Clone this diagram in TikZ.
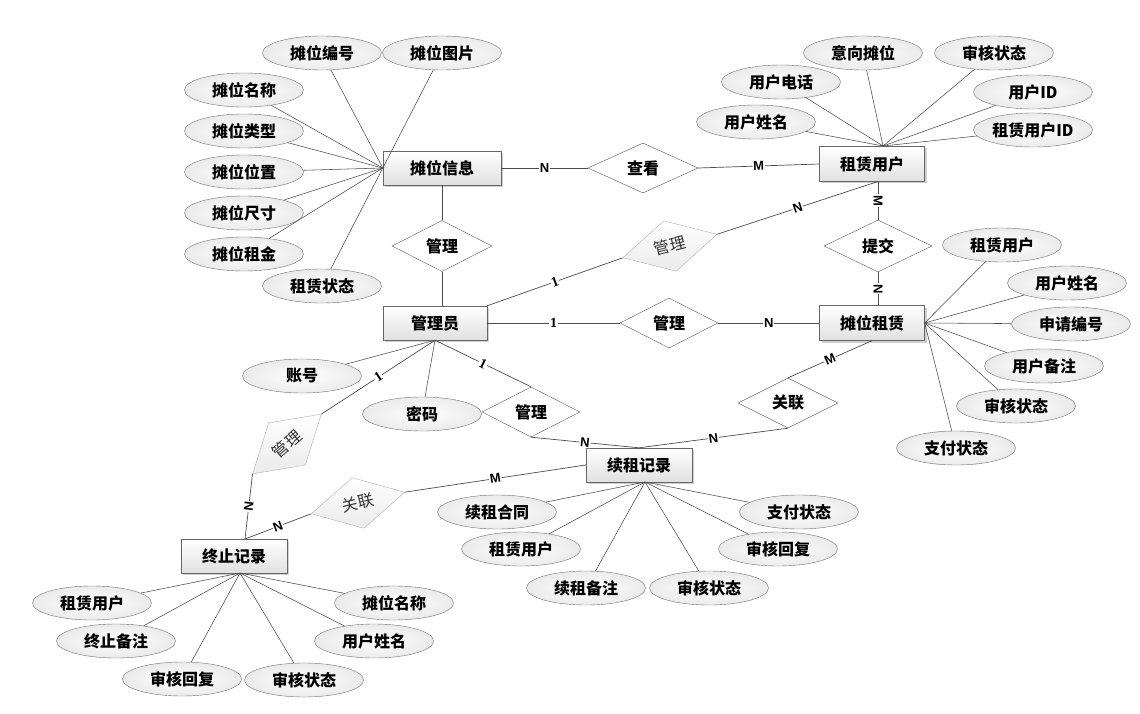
\documentclass[tikz,border=0pt]{standalone}
\usepackage{fontspec}
\newfontfamily\cjk{Noto Sans CJK SC}
\newfontfamily\labsans{Liberation Sans}
\newfontfamily\labserif{Liberation Serif}
\usetikzlibrary{shapes.geometric,shadows}
\tikzset{
  cjkfont/.style={font=\cjk\bfseries\fontsize{16}{18}\selectfont},
  ent/.style={rectangle, draw=black!60, top color=white, bottom color=black!12,
    minimum height=34pt, inner sep=0pt, cjkfont,
    drop shadow={shadow xshift=2pt, shadow yshift=-2pt, fill=black!30, opacity=0.6}},
  attr/.style={ellipse, draw=black!55, inner color=white, outer color=black!8,
    minimum width=119pt, minimum height=34pt, inner sep=0pt, cjkfont},
  rel/.style={diamond, draw=black!65, fill=white, shape aspect=2,
    minimum width=100pt, minimum height=50pt, inner sep=0pt, cjkfont},
  grel/.style={rel, draw=black!30, top color=white, bottom color=black!8,
    font=\cjk\fontsize{16}{18}\selectfont, text=black!80},
  conn/.style={draw=black!70, line width=0.7pt},
  aline/.style={draw=black!70, line width=0.55pt},
  card/.style={font=\labsans\bfseries\fontsize{13}{13}\selectfont, fill=white, inner sep=0.8pt, pos=0.5, sloped},
  one/.style={font=\labserif\bfseries\fontsize{14}{14}\selectfont, fill=white, inner sep=0.8pt, pos=0.5, sloped}
}
\begin{document}
\begin{tikzpicture}[x=1pt,y=-1pt]
\path[use as bounding box, fill=white] (0,0) rectangle (1140,714);

% entities
\node[ent, minimum width=118pt] (A) at (442,168) {摊位信息};
\node[ent, minimum width=105pt, minimum height=35pt] (U) at (872,164) {租赁用户};
\node[ent, minimum width=104pt] (M) at (435,323) {管理员};
\node[ent, minimum width=105pt, minimum height=35pt] (R) at (872,323) {摊位租赁};
\node[ent, minimum width=106pt] (X) at (639,465) {续租记录};
\node[ent, minimum width=106pt] (Z) at (234,556) {终止记录};

% relationships
\node[rel, minimum width=110pt] (d1) at (643,168) {查看};
\node[rel, minimum height=51pt] (d2) at (442,246) {管理};
\node[grel, rotate=14, minimum width=97pt, minimum height=52pt] (d3) at (670,246) {管理};
\node[rel, minimum width=108pt, minimum height=52pt] (d4) at (878,246) {提交};
\node[rel, minimum width=98pt] (d5) at (669,323) {管理};
\node[rel] (d6) at (788,403) {关联};
\node[rel, minimum width=98pt] (d7) at (531,412) {管理};
\node[grel, rotate=41, minimum width=91pt, minimum height=56pt] (d8) at (287,444) {管理};
\node[grel, rotate=13, minimum width=96pt, minimum height=52pt] (d9) at (358,503) {关联};

% hub coordinates
\coordinate (hU) at (883,146);
\coordinate (uB) at (878,181.5);
\coordinate (hX) at (645,482);
\coordinate (zT) at (245,539);
\coordinate (hZ) at (240,573);

% attributes of 摊位信息
\node[attr] (a1) at (322,53) {摊位编号};
\node[attr] (a2) at (442,53) {摊位图片};
\node[attr] (a3) at (244,90) {摊位名称};
\node[attr] (a4) at (244,131) {摊位类型};
\node[attr] (a5) at (244,172) {摊位位置};
\node[attr] (a6) at (244,213) {摊位尺寸};
\node[attr] (a7) at (244,254) {摊位租金};
\node[attr] (a8) at (322,286) {租赁状态};
\foreach \e in {a1,a2,a3,a4,a5,a6,a7,a8} \draw[aline] (A.west) -- (\e);

% attributes of 租赁用户
\node[attr] (u1) at (863,53) {意向摊位};
\node[attr] (u2) at (994,53) {审核状态};
\node[attr] (u3) at (781,82) {用户电话};
\node[attr] (u4) at (1033,92) {用户ID};
\node[attr] (u5) at (756,122) {用户姓名};
\node[attr] (u6) at (1033,130) {租赁用户ID};
\foreach \e in {u1,u2,u3,u4,u5,u6} \draw[aline] (hU) -- (\e);

% attributes of 摊位租赁
\node[attr] (r1) at (1002,245) {租赁用户};
\node[attr] (r2) at (1067,283) {用户姓名};
\node[attr] (r3) at (1071,324) {申请编号};
\node[attr] (r4) at (1044,366) {用户备注};
\node[attr] (r5) at (1016,406) {审核状态};
\node[attr] (r6) at (956,448) {支付状态};
\foreach \e in {r1,r2,r3,r4,r5,r6} \draw[aline] (R.east) -- (\e);

% attributes of 管理员
\node[attr] (m1) at (302,376) {账号};
\node[attr] (m2) at (422,414) {密码};
\draw[aline] (M.south) -- (m1);
\draw[aline] (M.south) -- (m2);

% attributes of 续租记录
\node[attr] (x1) at (497,512) {续租合同};
\node[attr] (x2) at (521,549) {租赁用户};
\node[attr] (x3) at (586,588) {续租备注};
\node[attr] (x4) at (709,588) {审核状态};
\node[attr] (x5) at (778,549) {审核回复};
\node[attr] (x6) at (799,512) {支付状态};
\foreach \e in {x1,x2,x3,x4,x5,x6} \draw[aline] (hX) -- (\e);

% attributes of 终止记录
\node[attr] (z1) at (92,603) {租赁用户};
\node[attr] (z2) at (116,641) {终止备注};
\node[attr] (z3) at (182,679) {审核回复};
\node[attr] (z4) at (304,680) {审核状态};
\node[attr] (z5) at (374,641) {用户姓名};
\node[attr] (z6) at (394,603) {摊位名称};
\foreach \e in {z1,z2,z3,z4,z5,z6} \draw[aline] (hZ) -- (\e);

% relationship connectors
\draw[conn] (A.east) -- node[card] {N} (d1.west);
\draw[conn] (d1.east) -- node[card] {M} (U.west);
\draw[conn] (A.south) -- (d2.north);
\draw[conn] (d2.south) -- (d2.south |- M.north);
\draw[conn] (M.north east) -- node[one] {1} (d3.west);
\draw[conn] (d3.east) -- node[card] {N} (uB);
\draw[conn] (uB) -- node[card] {M} (d4.north);
\draw[conn] (d4.south) -- node[card] {N} (d4.south |- R.north);
\draw[conn] (M.east) -- node[one] {1} (d5.west);
\draw[conn] (d5.east) -- node[card] {N} (R.west);
\draw[conn] (R.south) -- node[card] {M} (d6.north);
\draw[conn] (d6.south) -- node[card] {N} (X.north);
\draw[conn] (M.south) -- node[one] {1} (d7.north);
\draw[conn] (d7.south) -- node[card] {N} (X.north);
\draw[conn] (M.south) -- node[one] {1} (d8.east);
\draw[conn] (d8.west) -- node[card] {N} (zT);
\draw[conn] (X.west) -- node[card] {M} (d9.east);
\draw[conn] (d9.west) -- node[card] {N} (zT);
\end{tikzpicture}
\end{document}
